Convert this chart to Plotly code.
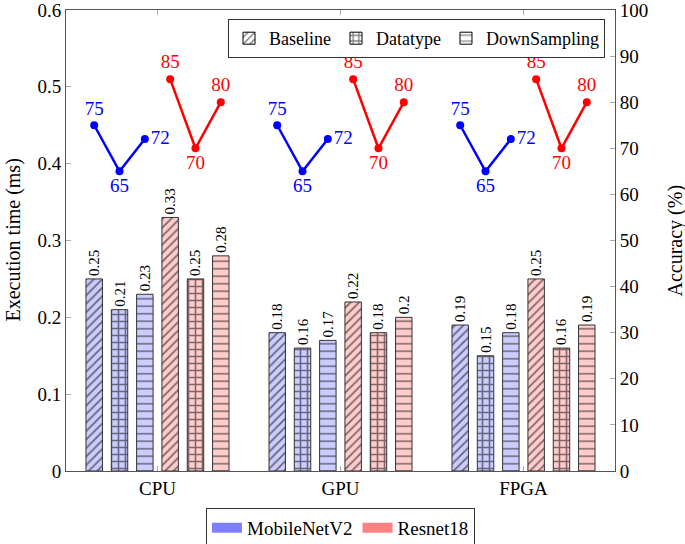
import plotly.graph_objects as go

categories = ["CPU", "GPU", "FPGA"]
methods = ["Baseline", "Datatype", "DownSampling"]
models = ["MobileNetV2", "Resnet18"]

mobilenet_baseline = [0.25, 0.18, 0.19]
mobilenet_datatype = [0.21, 0.16, 0.15]
mobilenet_downsampling = [0.23, 0.17, 0.18]
resnet_baseline = [0.33, 0.22, 0.25]
resnet_datatype = [0.25, 0.18, 0.16]
resnet_downsampling = [0.28, 0.20, 0.19]

mobilenet_accuracy = [75, 65, 72]
resnet_accuracy = [85, 70, 80]

y_ticks = [0, 0.1, 0.2, 0.3, 0.4, 0.5, 0.6]
y2_ticks = [0, 10, 20, 30, 40, 50, 60, 70, 80, 90, 100]

FONT = "Liberation Serif"
fill = {"MobileNetV2": "#ccccff", "Resnet18": "#ffcccc"}
swatch = {"MobileNetV2": "#8080ff", "Resnet18": "#ff8080"}
linecol = {"MobileNetV2": "#0000ff", "Resnet18": "#ff0000"}
pat = {"Baseline": dict(shape="/", size=6, solidity=0.3),
       "Datatype": dict(shape="+", size=7, solidity=0.4),
       "DownSampling": dict(shape="-", size=7.5, solidity=0.2)}

series = [
    ("MobileNetV2", "Baseline", mobilenet_baseline),
    ("MobileNetV2", "Datatype", mobilenet_datatype),
    ("MobileNetV2", "DownSampling", mobilenet_downsampling),
    ("Resnet18", "Baseline", resnet_baseline),
    ("Resnet18", "Datatype", resnet_datatype),
    ("Resnet18", "DownSampling", resnet_downsampling),
]

bargap = 0.17
slot = (1 - bargap) / len(series)
width = slot * 0.65
xs = list(range(len(categories)))

fig = go.Figure()
for k, (model, method, vals) in enumerate(series):
    off = (k - (len(series) - 1) / 2) * slot
    fig.add_trace(go.Bar(
        x=xs, y=vals, width=width, offset=off - width / 2,
        marker=dict(color=fill[model], line=dict(color="#333333", width=1),
                    pattern=dict(fgcolor="#000000", bgcolor=fill[model], **pat[method])),
        text=[f"{v:g}" for v in vals], textposition="outside", textangle=-90,
        constraintext="none", cliponaxis=False,
        textfont=dict(family=FONT, size=15, color="black"),
        showlegend=False, hoverinfo="skip"))

acc = {"MobileNetV2": (mobilenet_accuracy, 0, ["top center", "bottom center", "middle right"]),
       "Resnet18": (resnet_accuracy, 3, ["top center", "bottom center", "top center"])}
for model, (vals, start, tpos) in acc.items():
    for g in xs:
        px = [g + (start + j - (len(series) - 1) / 2) * slot for j in range(3)]
        fig.add_trace(go.Scatter(
            x=px, y=vals, yaxis="y2", mode="lines+markers+text",
            line=dict(color=linecol[model], width=2.5),
            marker=dict(color=linecol[model], size=8),
            text=[str(v) for v in vals], textposition=tpos,
            textfont=dict(family=FONT, size=19, color=linecol[model]),
            cliponaxis=False, showlegend=False, hoverinfo="skip"))

for method in methods:
    fig.add_trace(go.Bar(
        x=[None], y=[None], name=method, legend="legend",
        marker=dict(color="white", line=dict(color="black", width=1),
                    pattern=dict(fgcolor="black", bgcolor="white", **pat[method]))))
for model in models:
    fig.add_trace(go.Scatter(
        x=[None], y=[None], name=model, legend="legend2", mode="lines",
        line=dict(color=swatch[model], width=10)))

axcol = "#555555"
tickcol = "#aaaaaa"
common = dict(showline=True, linecolor=axcol, ticks="inside", ticklen=5,
              tickcolor=tickcol, showgrid=False, zeroline=False,
              tickfont=dict(size=19), automargin=False, ticklabeloverflow="allow")
fig.update_layout(
    width=685, height=544,
    margin=dict(l=66, r=70, t=10, b=73, autoexpand=False),
    paper_bgcolor="white", plot_bgcolor="white",
    barmode="overlay",
    font=dict(family=FONT, size=19, color="black"),
    xaxis=dict(range=[-0.5, 2.5], tickvals=xs, ticktext=categories,
               mirror="ticks", **common),
    yaxis=dict(range=[0, 0.6], tickvals=y_ticks, ticktext=[f"{v:g}" for v in y_ticks], **common),
    yaxis2=dict(range=[0, 100], tickvals=y2_ticks, overlaying="y", side="right", **common),
    legend=dict(orientation="h", x=1 - 10 / 549, xanchor="right",
                y=1 - 9 / 461, yanchor="top", bgcolor="white",
                bordercolor="#333333", borderwidth=1, itemwidth=30,
                font=dict(size=18), tracegroupgap=0),
    legend2=dict(orientation="h", x=0.5, xanchor="center",
                 y=-0.08, yanchor="top", bgcolor="white",
                 bordercolor="#333333", borderwidth=1, itemwidth=30,
                 font=dict(size=19)),
    annotations=[
        dict(text="Execution time (ms)", textangle=-90, xref="paper", yref="paper",
             x=(13 - 66) / 549, y=0.5, xanchor="center", yanchor="middle",
             showarrow=False, font=dict(size=20)),
        dict(text="Accuracy (%)", textangle=-90, xref="paper", yref="paper",
             x=1 + (675 - 615) / 549, y=0.5, xanchor="center", yanchor="middle",
             showarrow=False, font=dict(size=20)),
    ],
)

fig.write_html("out.html", config={"displayModeBar": False},
               post_script="document.body.style.margin='0';")
